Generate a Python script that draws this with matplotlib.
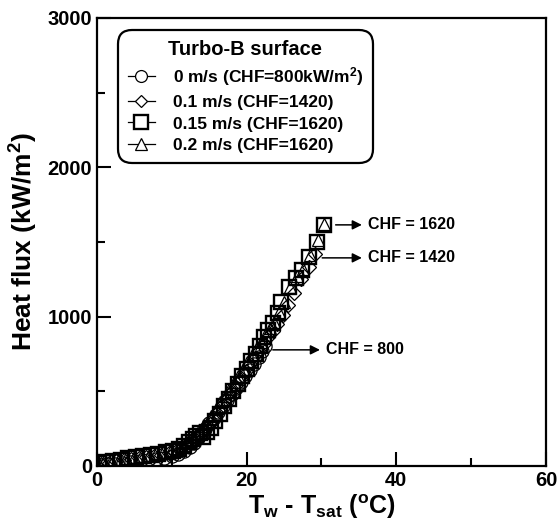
import matplotlib
matplotlib.use("Agg")
import matplotlib.pyplot as plt
from matplotlib.lines import Line2D

plt.rcParams['font.family'] = ['Liberation Sans', 'DejaVu Sans']
plt.rcParams['font.weight'] = 'bold'
plt.rcParams['mathtext.fontset'] = 'custom'
plt.rcParams['mathtext.rm'] = 'Liberation Sans:bold'
plt.rcParams['mathtext.bf'] = 'Liberation Sans:bold'
plt.rcParams['mathtext.it'] = 'Liberation Sans:bold'

# ---- data ----
x_0 = [0.4, 1.3, 2.4, 3.5, 4.6, 5.7, 6.8, 7.9, 9.0, 10.0, 10.9, 11.7, 12.4, 13.0, 13.5,
       14.0, 14.5, 15.0, 15.6, 16.2, 16.8, 17.4, 18.0, 18.6, 19.2, 19.8, 20.4, 21.0, 21.6, 22.1, 22.5]
y_0 = [5, 10, 15, 20, 25, 30, 38, 45, 55, 65, 80, 100, 125, 155, 185,
       215, 250, 285, 320, 360, 400, 440, 480, 520, 560, 600, 640, 685, 730, 770, 800]

x_01 = [0.6, 1.6, 2.6, 3.6, 4.6, 5.6, 6.6, 7.6, 8.6, 9.6, 10.5, 11.3, 12.0, 12.6, 13.1, 13.6,
        14.1, 14.6, 15.1, 15.7, 16.3, 16.9, 17.5, 18.1, 18.7, 19.3, 19.9, 20.5, 21.1, 21.7,
        22.3, 22.9, 23.5, 24.1, 24.8, 25.5, 26.4, 27.3, 28.3, 29.1]
y_01 = [15, 22, 30, 38, 45, 52, 60, 68, 76, 85, 95, 110, 130, 155, 180, 205,
        230, 255, 280, 320, 365, 410, 455, 500, 545, 590, 635, 680, 725, 770,
        815, 860, 905, 950, 1010, 1080, 1160, 1250, 1330, 1420]

x_015 = [0.3, 1.2, 2.2, 3.2, 4.2, 5.2, 6.2, 7.2, 8.2, 9.2, 10.2, 11.0, 11.7, 12.3, 12.8, 13.3,
         13.8, 14.2, 14.7, 15.2, 15.8, 16.4, 17.0, 17.6, 18.2, 18.8, 19.4, 20.0, 20.6, 21.2,
         21.8, 22.3, 22.9, 23.5, 24.2, 24.6, 25.7, 26.6, 27.4, 28.4, 29.4, 30.4]
y_015 = [20, 28, 35, 42, 50, 57, 65, 72, 80, 90, 100, 115, 135, 160, 180, 200,
         220, 196, 230, 254, 300, 350, 400, 450, 500, 550, 600, 650, 700, 750,
         800, 860, 910, 957, 1025, 1100, 1200, 1260, 1313, 1402, 1502, 1610]

x_02 = [0.2, 0.9, 1.9, 2.9, 3.9, 4.9, 5.9, 6.9, 7.9, 8.9, 9.9, 10.8, 11.6, 12.2, 12.7, 13.2,
        13.7, 14.2, 14.7, 15.3, 15.9, 16.5, 17.1, 17.7, 18.3, 18.9, 19.5, 20.1, 20.7, 21.3,
        21.9, 22.5, 23.1, 23.7, 24.3, 25.0, 25.8, 26.7, 27.5, 28.5, 29.5, 30.4]
y_02 = [25, 30, 38, 45, 52, 60, 68, 75, 84, 93, 105, 120, 142, 165, 190, 215,
        240, 265, 290, 335, 380, 425, 470, 515, 560, 605, 650, 695, 740, 785,
        830, 875, 920, 965, 1030, 1100, 1200, 1270, 1320, 1410, 1510, 1620]

labels = ['0 m/s (CHF=800kW/m$^2$)', '0.1 m/s (CHF=1420)',
          '0.15 m/s (CHF=1620)', '0.2 m/s (CHF=1620)']

chf_labels = ['CHF = 1620', 'CHF = 1420', 'CHF = 800']
chf_arrow_start = [(31.9, 1614), (30.1, 1393), (23.5, 777)]
chf_arrow_end = [(35.4, 1614), (35.4, 1393), (29.8, 777)]

# ---- figure ----
fig = plt.figure(figsize=(5.6, 5.27), dpi=100)
ax = fig.add_axes([0.173, 0.116, 0.802, 0.850])

styles = [
    dict(marker='o', ms=9.5, mew=0.9),
    dict(marker='D', ms=7, mew=0.9),
    dict(marker='s', ms=10.5, mew=1.7),
    dict(marker='^', ms=9, mew=0.9),
]
series = [(x_0, y_0), (x_01, y_01), (x_015, y_015), (x_02, y_02)]
for (xs, ys), st in zip(series, styles):
    ax.plot(xs, ys, linestyle='none', marker=st['marker'], ms=st['ms'],
            mfc='none', mec='black', mew=st['mew'])

handles = [Line2D([], [], color='black', lw=0.9, marker=st['marker'],
                  ms=st['ms'] * 0.9, mfc='white', mec='black', mew=st['mew'])
           for st in styles]
leg = ax.legend(handles, labels, title='Turbo-B surface', loc='upper left',
                bbox_to_anchor=(0.047, 0.973), borderaxespad=0,
                prop={'size': 12.5, 'weight': 'bold'},
                title_fontproperties={'size': 14.5, 'weight': 'bold'},
                handlelength=1.6, handletextpad=1.0, labelspacing=0.38,
                borderpad=0.55, fancybox=True, framealpha=1, edgecolor='black')
leg.get_frame().set_linewidth(1.6)
leg.get_frame().set_boxstyle('round,pad=0,rounding_size=0.8')

for txt, s, e in zip(chf_labels, chf_arrow_start, chf_arrow_end):
    ax.annotate('', xy=e, xytext=s,
                arrowprops=dict(arrowstyle='-|>', color='black', lw=1.1,
                                mutation_scale=14, shrinkA=0, shrinkB=0))
    ax.text(e[0] + 0.8, e[1], txt, fontsize=11.5, fontweight='bold',
            va='center', ha='left')

ax.set_xlim(0, 60)
ax.set_ylim(0, 3000)
ax.set_xticks([0, 20, 40, 60])
ax.set_xticks([10, 30, 50], minor=True)
ax.set_yticks([0, 1000, 2000, 3000])
ax.set_yticks([500, 1500, 2500], minor=True)
ax.tick_params(which='both', direction='in', width=1.5, labelsize=14.5)
ax.tick_params(which='major', length=10)
ax.tick_params(which='minor', length=6)
for lab in ax.get_xticklabels() + ax.get_yticklabels():
    lab.set_fontweight('bold')
for sp in ax.spines.values():
    sp.set_linewidth(1.6)

ax.set_xlabel('T$_\\mathrm{w}$ - T$_\\mathrm{sat}$ ($^\\mathrm{o}$C)', fontsize=18,
              fontweight='bold', labelpad=2)
ax.set_ylabel('Heat flux (kW/m$^2$)', fontsize=19, fontweight='bold', labelpad=5)

fig.savefig('out.png', dpi=100)
